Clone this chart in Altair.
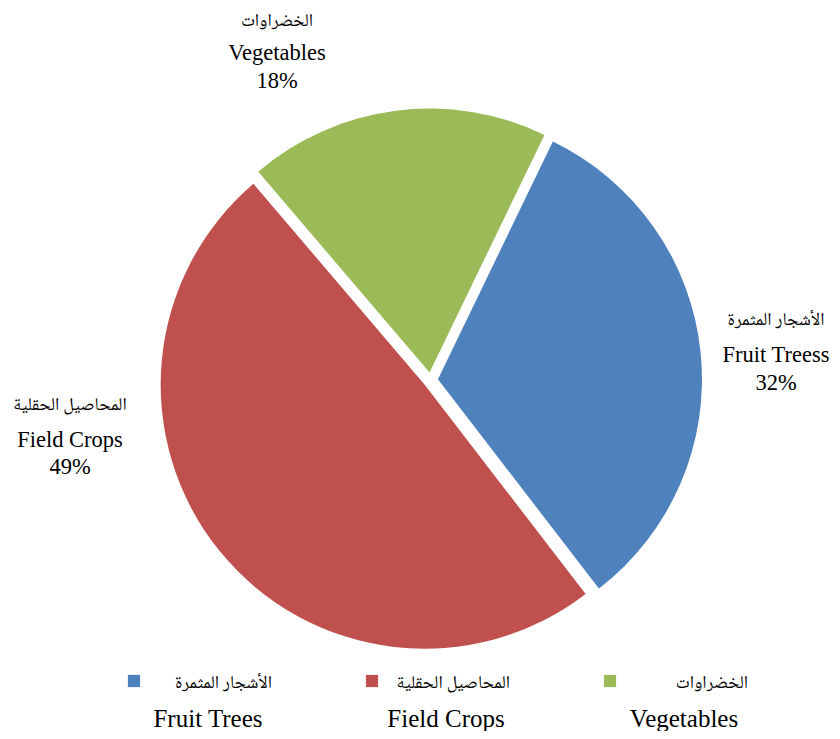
import math
import altair as alt
import pandas as pd

# ---- data ----
categories = ["Fruit Trees", "Field Crops", "Vegetables"]
arabic_names = ["الأشجار المثمرة", "المحاصيل الحقلية", "الخضراوات"]
slice_labels = ["Fruit Treess", "Field Crops", "Vegetables"]
shares = [32.4, 49.2, 18.4]
colors = ["#4F81BD", "#C0504D", "#9BBB59"]

# ---- layout (plot coordinates, px) ----
W, H = 824, 723
CX, CY = 422.5, 372.0
R = 264
EXPLODE = 7.5
START = math.radians(25.8)
LABEL_X = [768, 62, 269]
LABEL_Y_AR = [312, 397, 13]
LABEL_Y_EN = [347, 432, 45]
LABEL_Y_PCT = [375, 459, 73]
LEG_X = [126, 364, 602]
LEG_Y = 673
LEG_Y_EN = 711
EN_FONT = "Liberation Serif"
AR_FONT = "Noto Naskh Arabic, Amiri, DejaVu Serif, DejaVu Sans"

df = pd.DataFrame({
    "cat": categories,
    "ar": arabic_names,
    "name": slice_labels,
    "share": shares,
    "ord": list(range(len(categories))),
    "lx": LABEL_X,
    "ly_ar": LABEL_Y_AR,
    "ly_en": LABEL_Y_EN,
    "ly_pct": LABEL_Y_PCT,
    "gx": LEG_X,
})

base = alt.Chart(df).transform_joinaggregate(
    total="sum(share)"
).transform_window(
    cum="sum(share)", sort=[alt.SortField("ord")]
).transform_calculate(
    mid=f"{START} + 2*PI*(datum.cum - datum.share/2)/datum.total",
    cx=f"{CX} + {EXPLODE}*sin(datum.mid)",
    cy=f"{CY} - {EXPLODE}*cos(datum.mid)",
    pct="round(100*datum.share/datum.total) + '%'",
    gx_ar="datum.gx + 138",
    gx_en="datum.gx + 74",
    name_leg="datum.cat",
)

color = alt.Color("cat:N", scale=alt.Scale(domain=categories, range=colors), legend=None)

pie = base.mark_arc(radius=R, stroke=None).encode(
    theta=alt.Theta("share:Q", stack=True,
                    scale=alt.Scale(range=[START, START + 2 * math.pi])),
    order=alt.Order("ord:Q"),
    color=color,
    x=alt.X("cx:Q", scale=None, axis=None),
    y=alt.Y("cy:Q", scale=None, axis=None),
)

lab_ar = base.mark_text(font=AR_FONT, fontSize=18, color="black", baseline="middle").encode(
    x=alt.X("lx:Q", scale=None), y=alt.Y("ly_ar:Q", scale=None), text="ar:N")
lab_en = base.mark_text(font=EN_FONT, fontSize=22.5, color="black", baseline="middle").encode(
    x=alt.X("lx:Q", scale=None), y=alt.Y("ly_en:Q", scale=None), text="name:N")
lab_pct = base.mark_text(font=EN_FONT, fontSize=22.5, color="black", baseline="middle").encode(
    x=alt.X("lx:Q", scale=None), y=alt.Y("ly_pct:Q", scale=None), text="pct:N")

leg_sw = base.mark_square(size=150, opacity=1).encode(
    x=alt.X("gx:Q", scale=None), y=alt.value(LEG_Y), color=color)
leg_ar = base.mark_text(font=AR_FONT, fontSize=18, color="black", baseline="middle", align="right").encode(
    x=alt.X("gx_ar:Q", scale=None), y=alt.value(LEG_Y + 2), text="ar:N")
leg_en = base.mark_text(font=EN_FONT, fontSize=25, color="black", baseline="middle").encode(
    x=alt.X("gx_en:Q", scale=None), y=alt.value(LEG_Y_EN), text="name_leg:N")

chart = alt.layer(pie, lab_ar, lab_en, lab_pct, leg_sw, leg_ar, leg_en).properties(
    width=W, height=H, padding=0, autosize=alt.AutoSizeParams(type="none")
).configure_view(stroke=None)

chart.save("out.html", embed_options={"renderer": "svg", "actions": False})
